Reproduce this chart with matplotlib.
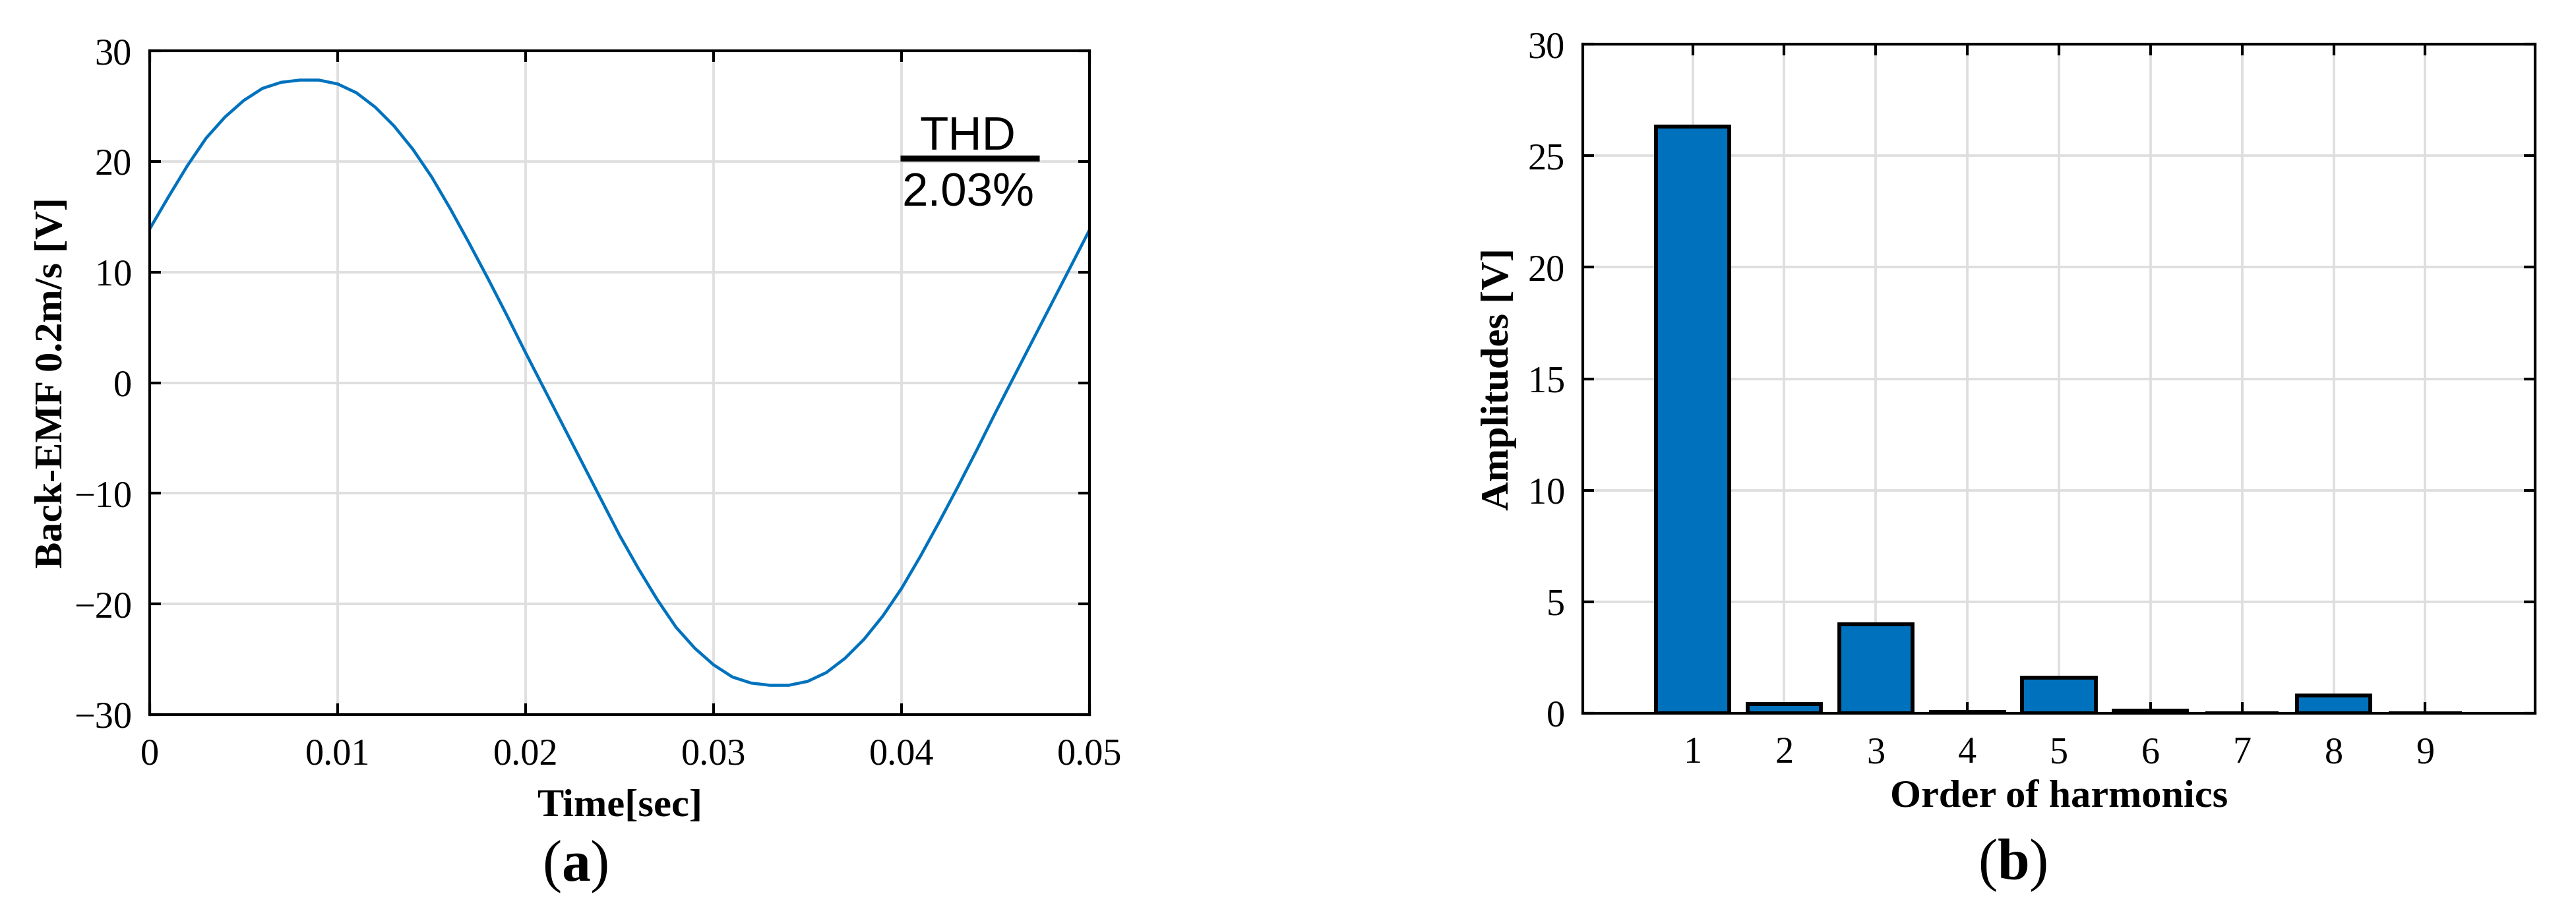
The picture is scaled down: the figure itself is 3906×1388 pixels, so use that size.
import matplotlib
matplotlib.use('Agg')
import matplotlib.pyplot as plt
from matplotlib import font_manager

W, H, DPI = 3906, 1388, 300

# ---------------- data ----------------
time_s = [0.000, 0.001, 0.002, 0.003, 0.004, 0.005, 0.006, 0.007, 0.008, 0.009,
          0.010, 0.011, 0.012, 0.013, 0.014, 0.015, 0.016, 0.017, 0.018, 0.019,
          0.020, 0.021, 0.022, 0.023, 0.024, 0.025, 0.026, 0.027, 0.028, 0.029,
          0.030, 0.031, 0.032, 0.033, 0.034, 0.035, 0.036, 0.037, 0.038, 0.039,
          0.040, 0.041, 0.042, 0.043, 0.044, 0.045, 0.046, 0.047, 0.048, 0.049,
          0.050]
emf_v = [13.9, 16.8, 19.6, 22.1, 24.0, 25.5, 26.6, 27.15, 27.35, 27.35,
         27.0, 26.2, 24.9, 23.2, 21.1, 18.6, 15.7, 12.6, 9.4, 6.1,
         2.7, -0.6, -3.9, -7.2, -10.5, -13.8, -16.8, -19.6, -22.1, -24.0,
         -25.5, -26.6, -27.15, -27.35, -27.35, -27.0, -26.2, -24.9, -23.2, -21.1,
         -18.6, -15.7, -12.6, -9.4, -6.1, -2.7, 0.6, 3.9, 7.2, 10.5,
         13.8]
time_ticks = [0, 0.01, 0.02, 0.03, 0.04, 0.05]
time_tick_labels = ['0', '0.01', '0.02', '0.03', '0.04', '0.05']
emf_ticks = [-30, -20, -10, 0, 10, 20, 30]
emf_tick_labels = ['\u221230', '\u221220', '\u221210', '0', '10', '20', '30']

harmonic_order = [1, 2, 3, 4, 5, 6, 7, 8, 9]
harmonic_amp = [26.3, 0.4, 4.0, 0.05, 1.6, 0.12, 0.0, 0.8, 0.0]
amp_ticks = [0, 5, 10, 15, 20, 25, 30]

thd_title = 'THD'
thd_value = '2.03%'

# ---------------- style ----------------
plt.rcParams['font.family'] = ['Liberation Serif', 'DejaVu Serif']
plt.rcParams['mathtext.fontset'] = 'custom'
plt.rcParams['mathtext.rm'] = 'Liberation Serif'
plt.rcParams['mathtext.bf'] = 'Liberation Serif:bold'

BLUE = '#0072BD'
GRID = '#dedede'
SPINE_LW = 1.0
TICK_FS = 13.5
LABEL_FS = 14.5

# narrow sans for the THD annotation if available
try:
    font_manager.findfont(font_manager.FontProperties(family='Liberation Sans Narrow'),
                          fallback_to_default=False)
    THD_FAMILY = ['Liberation Sans Narrow', 'DejaVu Sans']
    THD_FS = 19
except Exception:
    THD_FAMILY = ['Liberation Sans', 'DejaVu Sans']
    THD_FS = 17

fig = plt.figure(figsize=(W / DPI, H / DPI), dpi=DPI)
ax1 = fig.add_axes([227 / W, 1 - 1084 / H, 1425 / W, 1007 / H])
ax2 = fig.add_axes([2400 / W, 1 - 1082 / H, 1444 / W, 1015 / H])


def style_axes(ax, xticks, yticks):
    for s in ax.spines.values():
        s.set_linewidth(SPINE_LW)
        s.set_color('black')
        s.set_zorder(3)
    ax.tick_params(axis='both', which='major', direction='in', length=4.0,
                   width=SPINE_LW, top=True, right=True, labelsize=TICK_FS,
                   color='black')
    ax.tick_params(axis='x', pad=8.5)
    ax.tick_params(axis='y', pad=6.5)
    for t in xticks:
        ax.axvline(t, color=GRID, lw=0.9, zorder=0.5)
    for t in yticks:
        ax.axhline(t, color=GRID, lw=0.9, zorder=0.5)


# ---------------- (a) back-EMF waveform ----------------
ax1.plot(time_s, emf_v, color=BLUE, lw=1.1, zorder=2)
ax1.set_xlim(time_ticks[0], time_ticks[-1])
ax1.set_ylim(emf_ticks[0], emf_ticks[-1])
ax1.set_xticks(time_ticks)
ax1.set_xticklabels(time_tick_labels)
ax1.set_yticks(emf_ticks)
ax1.set_yticklabels(emf_tick_labels)
style_axes(ax1, time_ticks, emf_ticks)
ax1.set_xlabel('Time[sec]', fontsize=LABEL_FS, fontweight='bold')
ax1.set_ylabel('Back-EMF 0.2m/s [V]', fontsize=LABEL_FS, fontweight='bold')
ax1.xaxis.set_label_coords(0.5, -0.112)
ax1.yaxis.set_label_coords(-0.084, 0.5)

# THD annotation (fraction-like)
ax1.text(0.04351, 21.06, thd_title, ha='center', va='baseline', fontsize=THD_FS,
         family=THD_FAMILY, zorder=4)
ax1.plot([0.03993, 0.04733], [20.29, 20.29], color='black', lw=2.2,
         solid_capstyle='butt', zorder=4)
ax1.text(0.04354, 15.94, thd_value, ha='center', va='baseline', fontsize=THD_FS,
         family=THD_FAMILY, zorder=4)

# ---------------- (b) harmonic spectrum ----------------
ax2.bar(harmonic_order, harmonic_amp, width=0.8, color=BLUE,
        edgecolor='black', linewidth=1.4, zorder=2)
ax2.set_xlim(-0.2, 10.2)
ax2.set_ylim(amp_ticks[0], amp_ticks[-1])
ax2.set_xticks(harmonic_order)
ax2.set_xticklabels([str(v) for v in harmonic_order])
ax2.set_yticks(amp_ticks)
ax2.set_yticklabels([str(v) for v in amp_ticks])
style_axes(ax2, harmonic_order, amp_ticks)
ax2.set_xlabel('Order of harmonics', fontsize=LABEL_FS, fontweight='bold')
ax2.set_ylabel('Amplitudes [V]', fontsize=LABEL_FS, fontweight='bold')
ax2.xaxis.set_label_coords(0.5, -0.100)
ax2.yaxis.set_label_coords(-0.069, 0.5)

# ---------------- panel labels ----------------
fig.text(872 / W, 1 - 1315 / H, r'$\mathrm{(}\mathbf{a}\mathrm{)}$',
         ha='center', va='center', fontsize=21)
fig.text(3052 / W, 1 - 1313 / H, r'$\mathrm{(}\mathbf{b}\mathrm{)}$',
         ha='center', va='center', fontsize=21)

fig.savefig('out.png', dpi=DPI)
